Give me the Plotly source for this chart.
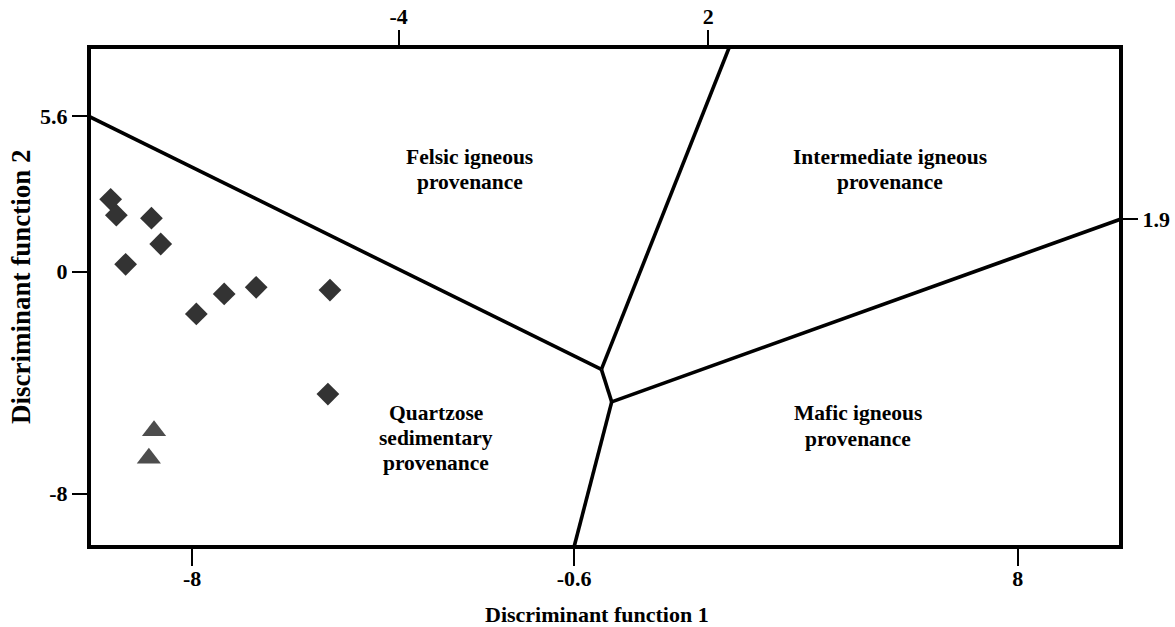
import plotly.graph_objects as go

# Sample scores on the two discriminant functions
diamond_df1 = [-9.58, -9.47, -8.79, -8.61, -9.29, -7.92, -7.38, -6.76, -5.33, -5.37]
diamond_df2 = [2.61, 2.04, 1.93, 1.00, 0.27, -1.52, -0.80, -0.56, -0.66, -4.41]
triangle_df1 = [-8.74, -8.84]
triangle_df2 = [-5.73, -6.72]

# Field boundaries (vertices of the provenance fields)
upper_node = (-0.07, -3.52)
lower_node = (0.13, -4.69)
left_end = (-10.0, 5.6)
top_end = (2.41, 8.1)
right_end = (10.0, 1.9)
bottom_end = (-0.6, -9.92)

x_range = [-10, 10]
y_range = [-9.92, 8.1]
bottom_ticks = [-8, -0.6, 8]
top_ticks = [-4, 2]
left_ticks = [5.6, 0, -8]
right_ticks = [1.9]

FONT = "Liberation Serif, Times New Roman, serif"
tick_font = dict(family=FONT, size=22, color="black", weight="bold")
label_font = dict(family=FONT, size=21.5, color="black", weight="bold")

segments = [
    (left_end, upper_node),
    (upper_node, top_end),
    (upper_node, lower_node),
    (lower_node, right_end),
    (lower_node, bottom_end),
]
bx, by = [], []
for a, b in segments:
    bx += [a[0], b[0], None]
    by += [a[1], b[1], None]

fig = go.Figure()
# Boundaries live on the top/right axes (which share the bottom/left scales)
fig.add_trace(go.Scatter(x=bx, y=by, mode="lines", xaxis="x2", yaxis="y2",
                         line=dict(color="black", width=3.6),
                         hoverinfo="skip", showlegend=False))
fig.add_trace(go.Scatter(x=diamond_df1, y=diamond_df2, mode="markers",
                         marker=dict(symbol="diamond", size=17.5, color="#333333"),
                         showlegend=False))
fig.add_trace(go.Scatter(x=triangle_df1, y=triangle_df2, mode="markers",
                         marker=dict(symbol="triangle-up", size=21, color="#4d4d4d"),
                         showlegend=False))

axis_common = dict(showgrid=False, zeroline=False, showline=False, automargin=False,
                   ticks="outside", tickwidth=2, tickcolor="black",
                   tickfont=tick_font)

fig.update_layout(
    width=1175, height=627, autosize=False,
    margin=dict(l=89, r=54, t=47, b=80),
    paper_bgcolor="white", plot_bgcolor="white",
    xaxis=dict(range=x_range, tickvals=bottom_ticks,
               ticktext=[f"{v:g}" for v in bottom_ticks], ticklen=18,
               ticklabelstandoff=-6, **axis_common),
    xaxis2=dict(overlaying="x", side="top", matches="x", tickvals=top_ticks,
                ticktext=[f"{v:g}" for v in top_ticks], ticklen=16,
                ticklabelstandoff=-3, **axis_common),
    yaxis=dict(range=y_range, tickvals=left_ticks,
               ticktext=[f"{v:g}" for v in left_ticks], ticklen=16, **axis_common),
    yaxis2=dict(overlaying="y", side="right", matches="y", tickvals=right_ticks,
                ticktext=[f"{v:g}" for v in right_ticks], ticklen=16, **axis_common),
    shapes=[dict(type="rect", xref="paper", yref="paper", x0=0, x1=1, y0=0, y1=1,
                 line=dict(color="black", width=4), layer="above")],
)

# Field names, one annotation per line
field_labels = [
    (-2.62, 4.14, "Felsic igneous"), (-2.62, 3.23, "provenance"),
    (5.52, 4.14, "Intermediate igneous"), (5.52, 3.23, "provenance"),
    (-3.28, -5.09, "Quartzose"), (-3.28, -5.99, "sedimentary"), (-3.28, -6.89, "provenance"),
    (4.90, -5.09, "Mafic igneous"), (4.90, -6.03, "provenance"),
]
for x, y, t in field_labels:
    fig.add_annotation(x=x, y=y, xref="x", yref="y", text=t, showarrow=False,
                       font=label_font, xanchor="center", yanchor="middle")

fig.add_annotation(x=0.492, y=0, xref="paper", yref="paper", yshift=-67,
                   text="Discriminant function 1", showarrow=False,
                   font=dict(family=FONT, size=22, color="black", weight="bold"),
                   xanchor="center", yanchor="middle")
fig.add_annotation(x=0, y=0.52, xref="paper", yref="paper", xshift=-68,
                   text="Discriminant function 2", showarrow=False, textangle=-90,
                   font=dict(family=FONT, size=27, color="black", weight="bold"),
                   xanchor="center", yanchor="middle")

fig.write_html("out.html")
